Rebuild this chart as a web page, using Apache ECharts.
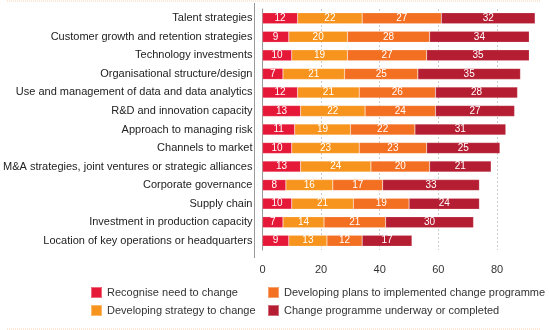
<!DOCTYPE html>
<html><head><meta charset="utf-8">
<script src="https://cdn.jsdelivr.net/npm/echarts@6/dist/echarts.min.js"></script>
<style>html,body{margin:0;padding:0;background:#fff}#c{width:549px;height:330px}</style>
</head><body><div id="c"></div>
<script>
const categories = [
  "Talent strategies",
  "Customer growth and retention strategies",
  "Technology investments",
  "Organisational structure/design",
  "Use and management of data and data analytics",
  "R&D and innovation capacity",
  "Approach to managing risk",
  "Channels to market",
  "M&A strategies, joint ventures or strategic alliances",
  "Corporate governance",
  "Supply chain",
  "Investment in production capacity",
  "Location of key operations or headquarters"
];
const recognise = [12, 9, 10, 7, 12, 13, 11, 10, 13, 8, 10, 7, 9];
const developingStrategy = [22, 20, 19, 21, 21, 22, 19, 23, 24, 16, 21, 14, 13];
const developingPlans = [27, 28, 27, 25, 26, 24, 22, 23, 20, 17, 19, 21, 12];
const underway = [32, 34, 35, 35, 28, 27, 31, 25, 21, 33, 24, 30, 17];
const xTicks = [0, 20, 40, 60, 80];

const seriesNames = [
  "Recognise need to change",
  "Developing strategy to change",
  "Developing plans to implemented change programme",
  "Change programme underway or completed"
];
const colors = ['#E51937', '#F7941D', '#F36F21', '#B51E32'];
const dataSets = [recognise, developingStrategy, developingPlans, underway];

const chart = echarts.init(document.getElementById('c'));
chart.setOption({
  animation: false,
  grid: {left: 254, top: 9, width: 287, height: 241, containLabel: false},
  legend: [
    {orient: 'vertical', left: 90, top: 286, padding: 0, itemWidth: 11, itemHeight: 11, itemGap: 5,
     icon: 'rect', data: [seriesNames[0], seriesNames[1]],
     textStyle: {fontSize: 11, color: '#333', fontFamily: 'Liberation Sans, Arial, sans-serif'}},
    {orient: 'vertical', left: 267, top: 286, padding: 0, itemWidth: 11, itemHeight: 11, itemGap: 5,
     icon: 'rect', data: [seriesNames[2], seriesNames[3]],
     textStyle: {fontSize: 11, color: '#333', fontFamily: 'Liberation Sans, Arial, sans-serif'}}
  ],
  xAxis: {
    type: 'value', min: 0, max: 95, interval: 20,
    axisLine: {show: false}, axisTick: {show: false},
    axisLabel: {fontSize: 11, color: '#333', margin: 14, showMaxLabel: false,
      fontFamily: 'Liberation Sans, Arial, sans-serif',
      formatter: v => xTicks.includes(v) ? String(v) : ''},
    splitLine: {show: true, lineStyle: {color: ['#ccc','#ccc','#ccc','#ccc','#ccc','transparent'], type: [2, 2], width: 1}}
  },
  yAxis: {
    type: 'category', data: categories, inverse: true,
    axisLine: {show: true, lineStyle: {color: '#999', width: 1}},
    axisTick: {show: false},
    axisLabel: {fontSize: 11, color: '#222', margin: 10, fontFamily: 'Liberation Sans, Arial, sans-serif'}
  },
  graphic: [
    {type: 'line', shape: {x1: 7, y1: 1, x2: 541, y2: 1}, style: {stroke: '#f9cfae', lineWidth: 1, lineDash: [1, 1]}},
    {type: 'line', shape: {x1: 7, y1: 329, x2: 541, y2: 329}, style: {stroke: '#f9cfae', lineWidth: 1, lineDash: [1, 1]}},
    {type: 'line', shape: {x1: 254.5, y1: 3, x2: 254.5, y2: 258}, style: {stroke: '#999', lineWidth: 1}}
  ],
  series: dataSets.map((d, i) => ({
    name: seriesNames[i], type: 'bar', stack: 'total', data: d, barWidth: 11,
    itemStyle: {color: colors[i], borderColor: 'rgba(255,255,255,0.35)', borderWidth: 0.5},
    label: {show: true, position: 'inside', color: '#fff', fontSize: 10,
      fontFamily: 'Liberation Sans, Arial, sans-serif'}
  }))
});
</script></body></html>
